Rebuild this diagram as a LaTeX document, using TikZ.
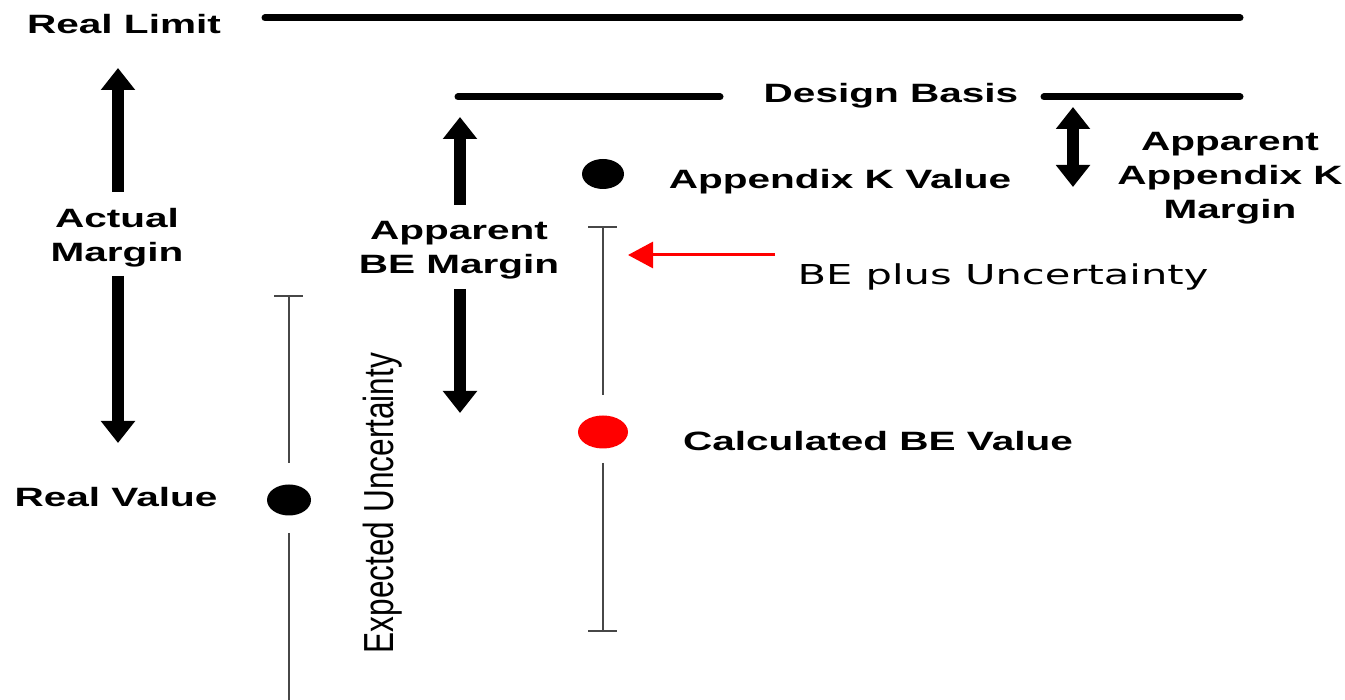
\documentclass[tikz,border=0pt]{standalone}
\usepackage{fontspec}
\usetikzlibrary{arrows.meta,shapes.geometric}
\newfontfamily\lblfont{Liberation Sans}[FakeStretch=1.53]
\newfontfamily\notefont{DejaVu Sans}[FakeStretch=1.52]
\newfontfamily\vertfont{Liberation Sans}
\tikzset{
  lbl/.style={font=\lblfont\bfseries\fontsize{26.5}{34}\selectfont, align=center, inner sep=0pt},
  note/.style={font=\notefont\fontsize{27.4}{33}\selectfont, inner sep=0pt},
  fatarrow/.style={line width=12.5pt, -{Triangle[width=33pt,length=22pt]}},
  limitline/.style={line width=7pt, line cap=round},
  errbar/.style={line width=1.6pt, draw=black!72},
  dot/.style={ellipse, fill=black, inner sep=0pt}
}
\begin{document}
\begin{tikzpicture}[x=1pt, y=-1pt]
  \useasboundingbox (0,0) rectangle (1345,700);
  % limits
  \coordinate (RLa) at (265,18); \coordinate (RLb) at (1240,18);
  \coordinate (DBa) at (458,97); \coordinate (DBb) at (720,97);
  \coordinate (DBc) at (1044,97); \coordinate (DBd) at (1240,97);
  \draw[limitline] (RLa) -- (RLb);
  \draw[limitline] (DBa) -- (DBb);
  \draw[limitline] (DBc) -- (DBd);
  \node[lbl, anchor=base] (RL) at (124,34) {Real Limit};
  \node[lbl, anchor=base] (DB) at (891,103) {Design Basis};
  % margins
  \node[lbl, anchor=base] (AM) at (117,262) {Actual\\Margin};
  \coordinate (AMa) at (118,192); \coordinate (AMb) at (118,68);
  \coordinate (AMc) at (118,276); \coordinate (AMd) at (118,443);
  \draw[fatarrow] (AMa) -- (AMb);
  \draw[fatarrow] (AMc) -- (AMd);
  \node[lbl, anchor=base] (BM) at (459,274) {Apparent\\BE Margin};
  \coordinate (BMa) at (460,205); \coordinate (BMb) at (460,117);
  \coordinate (BMc) at (460,289); \coordinate (BMd) at (460,413);
  \draw[fatarrow] (BMa) -- (BMb);
  \draw[fatarrow] (BMc) -- (BMd);
  \node[lbl, anchor=base] (KM) at (1230,219) {Apparent\\Appendix K\\Margin};
  \coordinate (KMa) at (1073,107); \coordinate (KMb) at (1073,187);
  \draw[fatarrow, {Triangle[width=33pt,length=22pt]}-{Triangle[width=33pt,length=22pt]}] (KMa) -- (KMb);
  % values
  \node[dot, minimum width=44pt, minimum height=31pt] (RV) at (289,500) {};
  \node[lbl, anchor=base] (RVl) at (116,507) {Real Value};
  \node[dot, minimum width=42pt, minimum height=30pt] (KV) at (603,174) {};
  \node[lbl, anchor=base] (KVl) at (840,189) {Appendix K Value};
  \node[dot, fill=red, minimum width=50pt, minimum height=33pt] (CV) at (603,432) {};
  \node[lbl, anchor=base] (CVl) at (878,451) {Calculated BE Value};
  % uncertainty bars
  \coordinate (RUa) at (274,296); \coordinate (RUb) at (303,296);
  \coordinate (RUt) at (289,296); \coordinate (RUm) at (289,463);
  \coordinate (RUn) at (289,533); \coordinate (RUe) at (289,700);
  \draw[errbar] (RUa) -- (RUb);
  \draw[errbar] (RUt) -- (RUm);
  \draw[errbar] (RUn) -- (RUe);
  \coordinate (CUa) at (588,227); \coordinate (CUb) at (617,227);
  \coordinate (CUt) at (603,227); \coordinate (CUm) at (603,395);
  \coordinate (CUn) at (603,463); \coordinate (CUe) at (603,631);
  \coordinate (CUc) at (588,631); \coordinate (CUd) at (617,631);
  \draw[errbar] (CUa) -- (CUb);
  \draw[errbar] (CUt) -- (CUm);
  \draw[errbar] (CUn) -- (CUe);
  \draw[errbar] (CUc) -- (CUd);
  \node[anchor=base, rotate=90, inner sep=0pt, font=\vertfont\fontsize{31.6}{36}\selectfont] (EU) at (393,503) {\scalebox{1}[1.33]{Expected Uncertainty}};
  % pointer
  \node[note, anchor=base] (BU) at (1003,285) {BE plus Uncertainty};
  \coordinate (PUa) at (775,255); \coordinate (PUb) at (628,255);
  \draw[red, line width=3pt, -{Triangle[width=26pt,length=25pt]}] (PUa) -- (PUb);
\end{tikzpicture}
\end{document}
